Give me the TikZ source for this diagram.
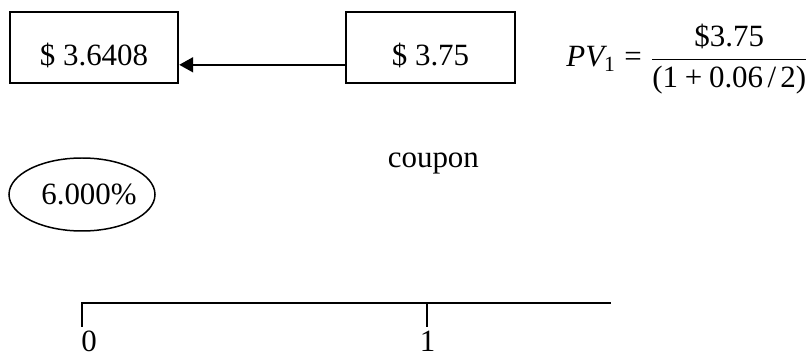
\documentclass[tikz,border=0pt]{standalone}
\usepackage{amsmath}
\usepackage{fontspec}
\setmainfont{Liberation Serif}
\usetikzlibrary{arrows.meta,shapes.geometric}
\newcommand{\opgap}{\hspace{0.22em}}
\newcommand{\divgap}{\hspace{0.14em}}
\begin{document}
\begin{tikzpicture}[scale=0.2]
\tikzstyle{every node}+=[inner sep=0pt, font=\fontsize{17.6}{21}\selectfont]
\tikzstyle{valbox}=[draw=black, line width=1.1pt, minimum width=3.37cm, text height=1.08cm, text depth=0.34cm]
\tikzstyle{rate}=[draw=black, ellipse, line width=0.85pt, minimum width=2.92cm, minimum height=1.46cm]
\tikzstyle{axis}=[black, line width=1.1pt]
\useasboundingbox (0,0) rectangle (81,-36);
\node [valbox] (pv0) at (9.4,-4.75) {\$ 3.6408};
\node [valbox] (cf1) at (43.05,-4.75) {\$ 3.75};
\draw [axis, -{Triangle[length=0.28cm,width=0.3cm]}] ([yshift=0.12cm]cf1.base west) -- ([yshift=0.12cm]pv0.base east);
\node [anchor=base west] (pv) at (56.6,-6.7) {$\textit{PV}_{\text{1}} \mathrel{\text{=}} \dfrac{\text{\$3.75}}{\text{(1\opgap+\opgap0.06\divgap/\divgap2)}}$};
\node [anchor=base west] (cpn) at (38.75,-16.8) {coupon};
\node [rate] (ytm) at (8.2,-19.45) {\makebox[0pt]{\hspace{0.28cm}6.000\%}};
\coordinate (t0) at (8.2,-30.3);
\coordinate (t1) at (42.7,-30.3);
\coordinate (tend) at (61.1,-30.3);
\coordinate (k0) at (8.2,-32.7);
\coordinate (k1) at (42.7,-32.7);
\draw [axis] (k0) -- (t0) -- (tend);
\draw [axis] (t1) -- (k1);
\node [anchor=base west] (lab0) at (8.1,-35.2) {0};
\node [anchor=base west] (lab1) at (41.95,-35.2) {1};
\end{tikzpicture}
\end{document}
